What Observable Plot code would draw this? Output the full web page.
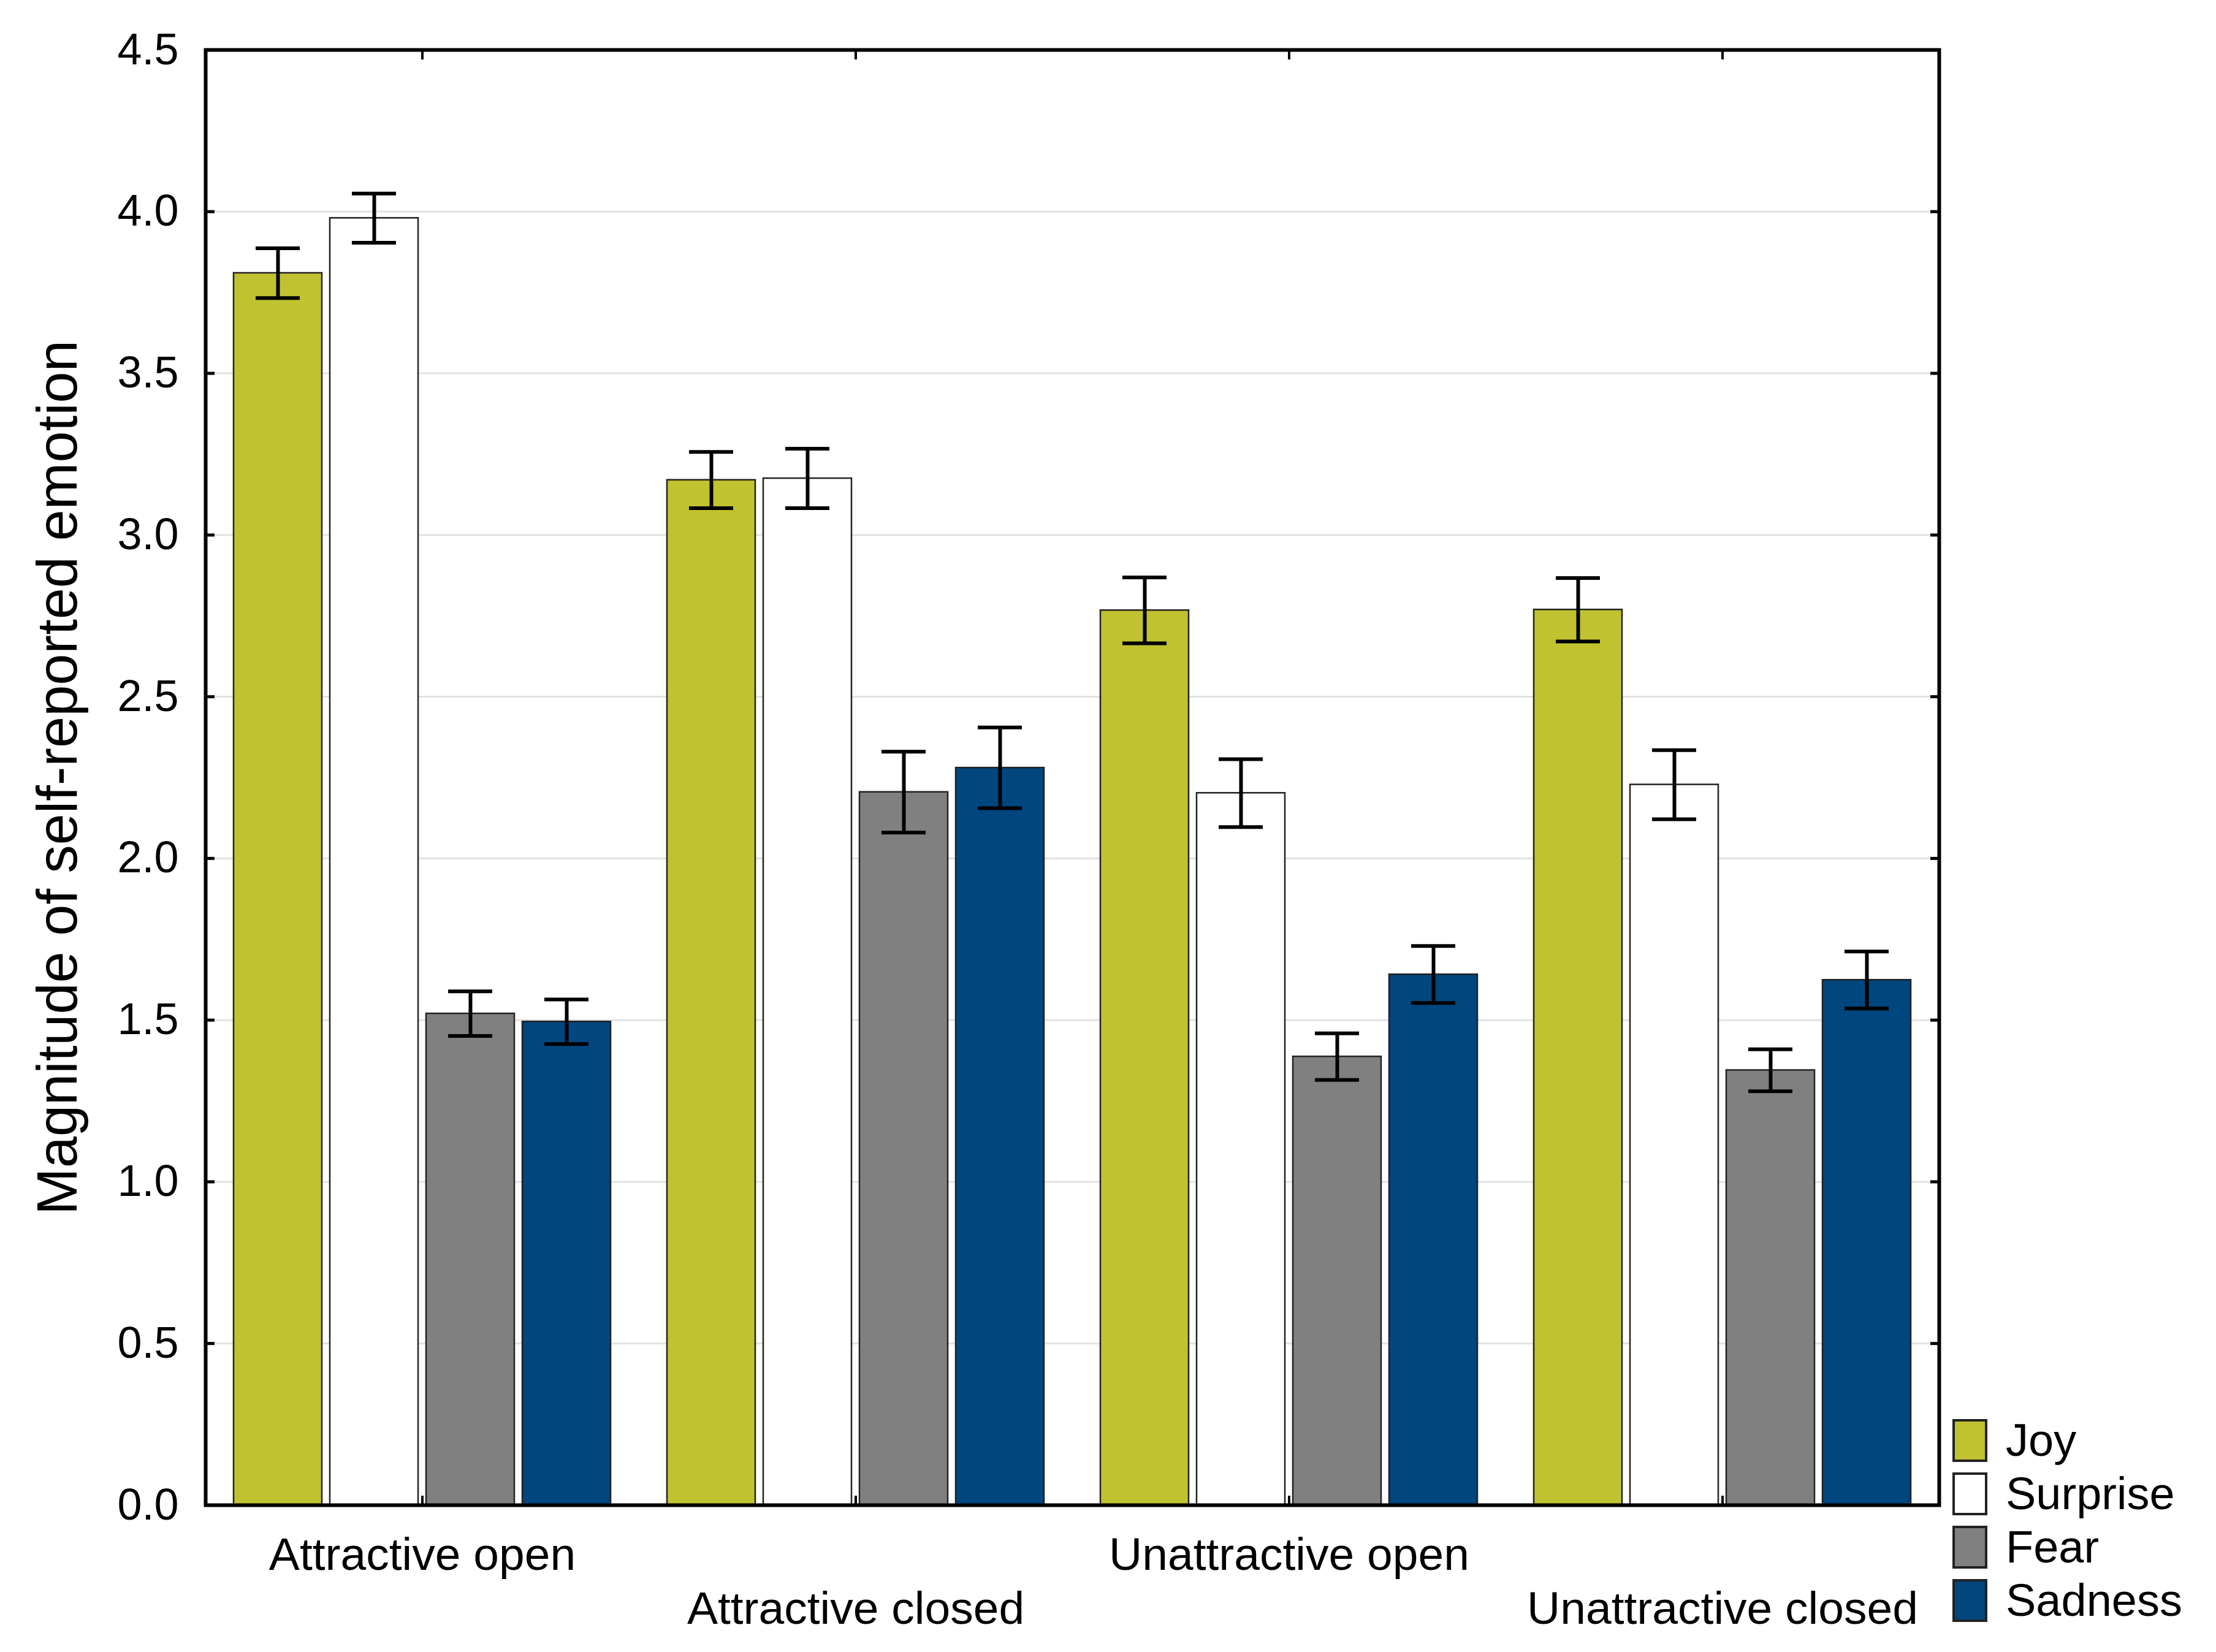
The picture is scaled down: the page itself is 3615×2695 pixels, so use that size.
<!DOCTYPE html>
<html>
<head>
<meta charset="utf-8">
<script src="https://cdn.jsdelivr.net/npm/d3@7"></script>
<script src="https://cdn.jsdelivr.net/npm/@observablehq/plot@0.6"></script>
<style>
  html, body { margin: 0; padding: 0; background: #fff; }
  #wrap { position: relative; width: 3615px; height: 2695px; font-family: "Liberation Sans", Arial, sans-serif; }
  #legend { position: absolute; left: 3185px; top: 2315px; }
  .item { display: flex; align-items: center; height: 70px; margin-bottom: 17px; }
  .sw { width: 57px; height: 70px; box-sizing: border-box; border: 4px solid #222; }
  .lab { margin-left: 30px; font-size: 74px; line-height: 70px; color: #000; white-space: nowrap; }
</style>
</head>
<body>
<div id="wrap"></div>
<script>
const conditions = ["Attractive open", "Attractive closed", "Unattractive open", "Unattractive closed"];
const emotions = ["Joy", "Surprise", "Fear", "Sadness"];
const colors = ["#C0C22F", "#FFFFFF", "#808080", "#00467F"];

// means per emotion, one value per condition
const joyMean      = [3.81, 3.17, 2.767, 2.769];
const surpriseMean = [3.98, 3.175, 2.202, 2.228];
const fearMean     = [1.52, 2.205, 1.387, 1.345];
const sadnessMean  = [1.495, 2.28, 1.641, 1.624];

// error (half length of the error bar)
const joyErr      = [0.077, 0.087, 0.102, 0.098];
const surpriseErr = [0.076, 0.092, 0.105, 0.107];
const fearErr     = [0.069, 0.125, 0.072, 0.065];
const sadnessErr  = [0.069, 0.125, 0.088, 0.088];

const yTicks = [0, 0.5, 1, 1.5, 2, 2.5, 3, 3.5, 4, 4.5];

const meansByEmotion = [joyMean, surpriseMean, fearMean, sadnessMean];
const errsByEmotion = [joyErr, surpriseErr, fearErr, sadnessErr];

const data = [];
conditions.forEach((c, ci) => {
  emotions.forEach((e, ei) => {
    const m = meansByEmotion[ei][ci];
    const s = errsByEmotion[ei][ci];
    data.push({condition: c, emotion: e, mean: m, lo: m - s, hi: m + s});
  });
});

const font = "Liberation Sans, Arial, sans-serif";

const chart = Plot.plot({
  width: 3615,
  height: 2695,
  marginTop: 81,
  marginLeft: 334,
  marginRight: 451,
  marginBottom: 240,
  style: {fontFamily: font, fontSize: "72px", background: "white", color: "black"},
  fx: {domain: conditions, padding: 0, label: null},
  x: {domain: emotions, paddingInner: 0.083, paddingOuter: 0.28, axis: null},
  y: {domain: [0, 4.5]},
  color: {domain: emotions, range: colors},
  marks: [
    Plot.gridY(yTicks.filter(d => d > 0 && d < 4.5), {stroke: "#e2e2e2", strokeOpacity: 1, strokeWidth: 3}),
    Plot.barY(data, {fx: "condition", x: "emotion", y: "mean", fill: "emotion", stroke: "#222", strokeWidth: 2.5}),
    Plot.ruleX(data, {fx: "condition", x: "emotion", y1: "lo", y2: "hi", stroke: "black", strokeWidth: 6}),
    Plot.tickY(data, {fx: "condition", x: "emotion", y: "lo", stroke: "black", strokeWidth: 6, insetLeft: 36, insetRight: 36}),
    Plot.tickY(data, {fx: "condition", x: "emotion", y: "hi", stroke: "black", strokeWidth: 6, insetLeft: 36, insetRight: 36}),
    // y tick labels
    Plot.axisY({anchor: "left", ticks: yTicks, tickSize: 0, tickPadding: 44, tickFormat: d3.format(".1f"), fontSize: 72, label: null}),
    // y axis title
    Plot.axisY({anchor: "left", ticks: [], label: "Magnitude of self-reported emotion", labelAnchor: "center", labelArrow: "none", labelOffset: 276, fontSize: 92}),
    // inward ticks left / right
    Plot.axisY({anchor: "left", ticks: yTicks, tickSize: 15, dx: 15, tickFormat: () => "", label: null, strokeWidth: 5}),
    Plot.axisY({anchor: "right", ticks: yTicks, tickSize: 15, dx: -15, tickFormat: () => "", label: null, strokeWidth: 5}),
    // inward ticks top / bottom at group centers
    Plot.axisFx({anchor: "top", tickSize: 15, dy: 15, tickFormat: () => "", label: null, strokeWidth: 4}),
    Plot.axisFx({anchor: "bottom", tickSize: 15, dy: -15, tickFormat: () => "", label: null, strokeWidth: 4}),
    // staggered group labels
    Plot.axisFx({anchor: "bottom", tickSize: 0, tickPadding: 52, fontSize: 75, label: null,
      tickFormat: d => conditions.indexOf(d) % 2 === 0 ? d : ""}),
    Plot.axisFx({anchor: "bottom", tickSize: 0, tickPadding: 140, fontSize: 75, label: null,
      tickFormat: d => conditions.indexOf(d) % 2 === 1 ? d : ""}),
    Plot.frame({facet: "super", stroke: "black", strokeWidth: 6})
  ]
});

const wrap = document.getElementById("wrap");
wrap.appendChild(chart);

const legend = document.createElement("div");
legend.id = "legend";
emotions.forEach((e, i) => {
  const item = document.createElement("div");
  item.className = "item";
  const sw = document.createElement("div");
  sw.className = "sw";
  sw.style.background = colors[i];
  const lab = document.createElement("span");
  lab.className = "lab";
  lab.textContent = e;
  item.appendChild(sw);
  item.appendChild(lab);
  legend.appendChild(item);
});
wrap.appendChild(legend);
</script>
</body>
</html>
